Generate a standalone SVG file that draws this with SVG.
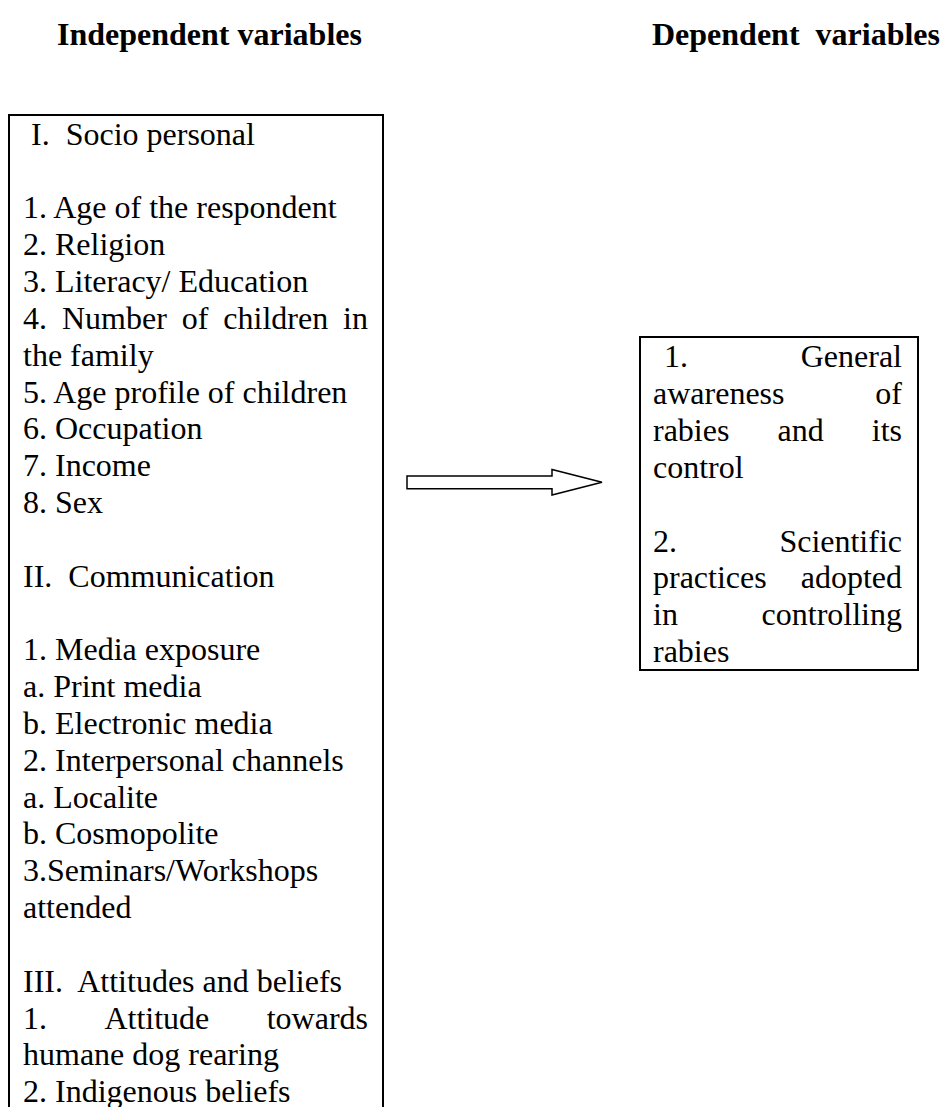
<svg xmlns="http://www.w3.org/2000/svg" width="946" height="1107" viewBox="0 0 946 1107">
<style>
text{font-family:"Liberation Serif","Times New Roman",serif;font-size:32px;fill:#000}
.h{font-weight:bold}
.box{fill:#fff;stroke:#000;stroke-width:2}
.end{text-anchor:end}
</style>
<rect width="946" height="1107" fill="#fff"/>
<g id="headers">
<text class="h" x="57" y="45">Independent variables</text>
<text class="h" x="652" y="45" xml:space="preserve">Dependent  variables</text>
</g>
<g id="independent">
<rect class="box" x="9" y="115" width="374" height="1010"/>
<text x="31" y="144.6" xml:space="preserve">I.  Socio personal</text>
<text x="23" y="218.3">1. Age of the respondent</text>
<text x="23" y="255.1">2. Religion</text>
<text x="23" y="292">3. Literacy/ Education</text>
<text y="328.8"><tspan x="23">4.</tspan><tspan x="62">Number</tspan><tspan x="181.7">of</tspan><tspan x="223.3">children</tspan><tspan x="368" class="end" text-anchor="end">in</tspan></text>
<text x="23" y="365.6">the family</text>
<text x="23" y="402.5">5. Age profile of children</text>
<text x="23" y="439.3">6. Occupation</text>
<text x="23" y="476.1">7. Income</text>
<text x="23" y="512.9">8. Sex</text>
<text x="23" y="586.6" xml:space="preserve">II.  Communication</text>
<text x="23" y="660.3">1. Media exposure</text>
<text x="23" y="697.1">a. Print media</text>
<text x="23" y="733.9">b. Electronic media</text>
<text x="23" y="770.8">2. Interpersonal channels</text>
<text x="23" y="807.6">a. Localite</text>
<text x="23" y="844.4">b. Cosmopolite</text>
<text x="23" y="881.2">3.Seminars/Workshops</text>
<text x="23" y="918.1">attended</text>
<text x="23" y="991.7" xml:space="preserve">III.  Attitudes and beliefs</text>
<text y="1028.6"><tspan x="23">1.</tspan><tspan x="104.4">Attitude</tspan></text>
<text class="end" x="368" y="1028.6">towards</text>
<text x="23" y="1065.4">humane dog rearing</text>
<text x="23" y="1102.2">2. Indigenous beliefs</text>
</g>
<g id="connectors">
<polygon points="407,476 552,476 552,469.5 602,482.3 552,495 552,488.7 407,488.7" fill="#fff" stroke="#000" stroke-width="1.5" stroke-linejoin="miter"/>
</g>
<g id="dependent">
<rect class="box" x="640" y="337" width="278" height="333"/>
<text x="664" y="367.4">1.</text>
<text class="end" x="902" y="367.4">General</text>
<text x="653" y="404.2">awareness</text>
<text class="end" x="902" y="404.2">of</text>
<text x="653" y="441.1">rabies</text>
<text x="777.5" y="441.1">and</text>
<text class="end" x="902" y="441.1">its</text>
<text x="653" y="477.9">control</text>
<text x="653" y="551.6">2.</text>
<text class="end" x="902" y="551.6">Scientific</text>
<text x="653" y="588.4">practices</text>
<text class="end" x="902" y="588.4">adopted</text>
<text x="653" y="625.2">in</text>
<text class="end" x="902" y="625.2">controlling</text>
<text x="653" y="662">rabies</text>
</g>
</svg>
